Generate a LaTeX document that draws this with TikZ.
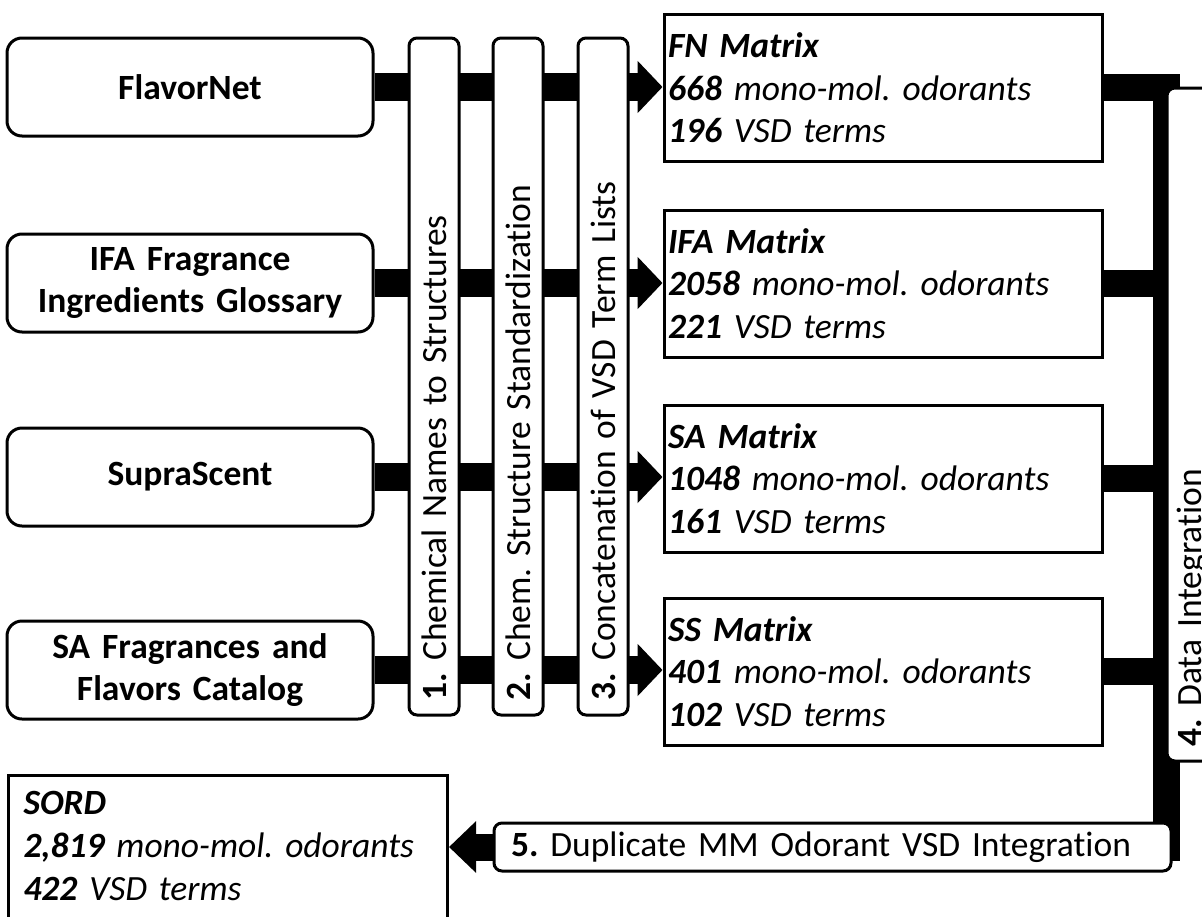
\documentclass[tikz,border=0pt]{standalone}
\usepackage{fontspec}
\setmainfont{Carlito}[WordSpace=1.5,Ligatures=NoCommon]
\usetikzlibrary{arrows.meta,backgrounds}
\frenchspacing
\tikzset{
  basefont/.style={font=\fontsize{35.5}{42.5}\selectfont},
  srcbox/.style={draw, line width=3pt, rounded corners=15pt, fill=white,
    minimum width=366pt, minimum height=98pt, align=center, inner sep=0pt,
    font=\bfseries\fontsize{35.5}{42.5}\selectfont},
  stepbox/.style={draw, line width=3pt, rounded corners=8pt, fill=white, rotate=90,
    minimum height=50pt, inner xsep=15pt, inner ysep=0pt, text width=647pt, align=left,
    basefont},
  matbox/.style={draw, line width=3pt, fill=white, minimum height=147pt,
    inner xsep=4pt, text width=430pt, align=left,
    font=\itshape\fontsize{35.5}{42.5}\selectfont},
  flow/.style={line width=28pt, -{Triangle[length=25pt,width=51pt]}},
  bus/.style={line width=27pt, line join=miter},
}
\begin{document}
\begin{tikzpicture}[x=1pt,y=-1pt]
\useasboundingbox (0,0) rectangle (1202,916);
\clip (0,0) rectangle (1202,916);

% source boxes
\node[srcbox] (s1) at (190,87) {FlavorNet};
\node[srcbox] (s2) at (190,283) {IFA Fragrance\\Ingredients Glossary};
\node[srcbox] (s3) at (190,477) {SupraScent};
\node[srcbox] (s4) at (190,670) {SA Fragrances and\\Flavors Catalog};

% step boxes
\node[stepbox] (p1) at (434,376.5) {\textbf{1.} Chemical Names to Structures};
\node[stepbox] (p2) at (518,376.5) {\textbf{2.} Chem. Structure Standardization};
\node[stepbox] (p3) at (603,376.5) {\textbf{3.} Concatenation of VSD Term Lists};

% matrix boxes
\node[matbox] (m1) at (883,88) {\textbf{FN Matrix}\\\textbf{668} mono-mol. odorants\\\textbf{196} VSD terms};
\node[matbox] (m2) at (883,283.5) {\textbf{IFA Matrix}\\\textbf{2058} mono-mol. odorants\\\textbf{221} VSD terms};
\node[matbox] (m3) at (883,478.5) {\textbf{SA Matrix}\\\textbf{1048} mono-mol. odorants\\\textbf{161} VSD terms};
\node[matbox] (m4) at (883,671.5) {\textbf{SS Matrix}\\\textbf{401} mono-mol. odorants\\\textbf{102} VSD terms};

% data integration
\node[stepbox, text width=643pt] (p4) at (1192,424.5) {\textbf{4.} Data Integration};

% duplicate integration
\node[draw, line width=3pt, rounded corners=8pt, fill=white, minimum height=48pt,
  inner xsep=17pt, inner ysep=0pt, text width=643pt, align=left, basefont]
  (p5) at (832.5,847) {\textbf{5.} Duplicate MM Odorant VSD Integration};

% SORD
\node[draw, line width=3pt, fill=white, anchor=north west, inner xsep=15pt,
  inner ysep=16pt, text width=409pt, align=left, text depth=110pt,
  font=\itshape\fontsize{35.5}{43}\selectfont]
  (sord) at (7,774) {\textbf{SORD}\\\textbf{2,819} mono-mol. odorants\\\textbf{422} VSD terms};

\coordinate (bustop) at (1166.5,87);
\coordinate (busbot) at (1166.5,847);

\begin{scope}[on background layer]
  \draw[flow] (s1.east) -- (s1.east -| m1.west);
  \draw[flow] (s2.east) -- (s2.east -| m2.west);
  \draw[flow] (s3.east) -- (s3.east -| m3.west);
  \draw[flow] (s4.east) -- (s4.east -| m4.west);
  \draw[bus, -{Triangle[length=27pt,width=50pt]}] (m1.east |- bustop) -- (bustop) -- (busbot) -- (sord.east |- busbot);
  \draw[bus] (m2.east) -- (m2.east -| bustop);
  \draw[bus] (m3.east) -- (m3.east -| bustop);
  \draw[bus] (m4.east) -- (m4.east -| bustop);
\end{scope}
\end{tikzpicture}
\end{document}
